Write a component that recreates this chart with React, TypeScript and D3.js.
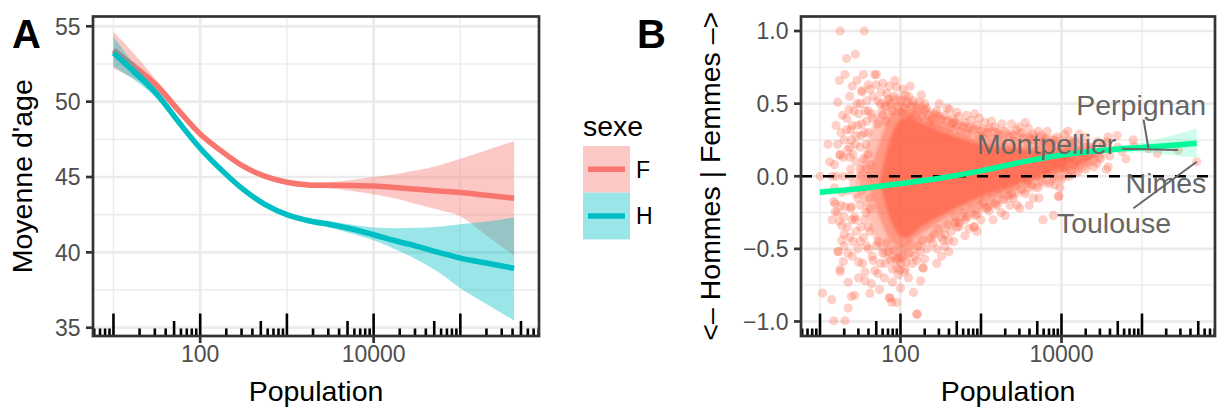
import React from 'react';
import * as d3 from 'd3';

const FONT = '"Liberation Sans", Arial, Helvetica, sans-serif';

// ---------- Panel A data (log10 population, mean age) ----------
const popLogA = [1.0, 1.25, 1.5, 1.75, 2.0, 2.25, 2.5, 2.75, 3.0, 3.25, 3.5, 3.75, 4.0, 4.25, 4.5, 4.75, 5.0, 5.3, 5.62];
const ageF = [53.42, 52.3, 51.05, 49.42, 47.86, 46.7, 45.7, 45.04, 44.65, 44.47, 44.45, 44.44, 44.4, 44.3, 44.18, 44.07, 43.97, 43.79, 43.59];
const ageFLow = [52.2, 51.5, 50.7, 49.17, 47.66, 46.53, 45.55, 44.89, 44.5, 44.3, 44.23, 44.07, 43.85, 43.57, 43.19, 42.82, 42.38, 41.14, 39.78];
const ageFHigh = [54.63, 53.1, 51.4, 49.67, 48.06, 46.87, 45.85, 45.19, 44.8, 44.64, 44.67, 44.8, 45.0, 45.18, 45.44, 45.77, 46.21, 46.78, 47.38];
const ageH = [53.24, 51.9, 50.5, 48.66, 46.91, 45.44, 44.16, 43.17, 42.5, 42.1, 41.85, 41.55, 41.17, 40.77, 40.4, 40.0, 39.62, 39.29, 38.94];
const ageHLow = [52.33, 51.4, 50.2, 48.44, 46.73, 45.29, 44.01, 43.02, 42.35, 41.93, 41.63, 41.24, 40.8, 40.2, 39.51, 38.68, 37.62, 36.58, 35.48];
const ageHHigh = [54.32, 52.4, 50.8, 48.88, 47.09, 45.59, 44.31, 43.32, 42.65, 42.27, 42.07, 41.83, 41.65, 41.6, 41.63, 41.7, 41.87, 42.05, 42.31];
const sexes = ['F', 'H'];
const sexColors = ['#F8766D', '#00BFC4'];

const yBreaksA = [35, 40, 45, 50, 55];
const yMinorA = [37.5, 42.5, 47.5, 52.5];
const xBreaks = [100, 10000];
const xBreakLabels = ['100', '10000'];
const xMinor = [10, 1000, 100000];

// ---------- Panel B data ----------
const yBreaksB = [-1, -0.5, 0, 0.5, 1];
const yBreakLabelsB = ['\u22121.0', '\u22120.5', '0.0', '0.5', '1.0'];
const yMinorB = [-0.75, -0.25, 0.25, 0.75];

// scattered communes: [log10 population, difference]
const communes: number[][] = [
  [1.25, 1.0], [1.55, 1.0], [1.33, 0.81], [1.44, 0.84], [1.24, 0.66], [1.31, 0.7], [1.7, 0.7], [1.22, 0.51], [1.52, 0.59], [1.6, 0.63],
  [1.1, 0.22], [1.29, 0.13], [1.37, 0.2], [1.0, 0.0], [1.15, 0.0], [1.29, 0.0], [1.25, 0.145], [1.2, 0.0], [1.38, 0.0], [1.5, 0.0], [1.6, 0.0],
  [1.68, 0.7], [1.7, 0.63], [1.52, 0.58], [1.83, 0.57], [1.95, 0.615], [2.06, 0.56], [1.37, 0.55], [1.46, 0.5], [1.58, 0.52],
  [2.24, 0.51], [2.3, 0.455], [2.61, 0.46], [2.39, 0.4], [2.64, 0.36], [2.88, 0.385], [2.92, 0.43], [3.26, 0.36], [3.48, 0.34],
  [3.59, 0.33], [3.75, 0.28], [4.04, 0.29], [4.17, 0.24], [4.4, 0.065], [4.25, 0.12], [3.96, -0.14], [3.9, -0.27], [3.77, -0.3],
  [3.36, -0.2], [3.57, -0.05], [3.34, -0.13], [3.09, -0.21], [2.92, -0.35], [2.68, -0.32], [2.51, -0.42], [2.55, -0.485],
  [2.28, -0.63], [2.51, -0.55], [2.2, -0.58], [2.01, -0.55], [1.95, -0.63], [1.81, -0.6], [1.66, -0.58], [1.56, -0.66],
  [1.48, -0.59], [1.35, -0.53], [1.23, -0.52], [1.37, -0.42], [1.27, -0.34], [1.43, -0.28], [1.31, -0.21], [1.19, -0.19],
  [1.87, -0.84], [1.95, -0.87], [2.2, -0.95], [1.43, -0.82], [1.35, -0.73], [1.64, -0.74], [1.25, -0.64], [1.72, -0.67],
  [1.58, -0.48], [1.27, -0.11], [1.37, 0.13], [1.25, 0.15], [1.39, 0.25], [1.33, 0.32], [1.52, 0.36], [1.48, 0.43],
  [1.64, 0.43], [1.72, 0.52], [1.81, 0.48], [2.14, 0.48], [2.18, 0.42], [2.43, 0.43], [2.72, 0.41], [3.05, 0.37],
  [3.44, 0.32], [3.17, 0.34], [3.71, 0.31],
  [1.17, -0.995], [1.31, -0.995], [1.03, -0.805], [1.145, -0.85], [1.35, -0.908], [1.39, -0.828], [1.22, -0.518],
  [1.29, -0.587], [1.25, -0.657], [1.86, -0.835], [1.89, -0.867], [2.21, -0.95], [1.62, -0.805], [1.99, -0.645],
  [2.28, -0.633], [2.73, -0.347], [2.91, -0.347], [3.97, -0.136], [4.56, 0.047], [4.58, 0.27], [1.19, -0.245],
  [1.17, -0.175], [1.24, -0.31], [1.39, -0.21],
  [4.1, 0.22], [4.2, 0.18], [4.3, 0.2], [4.35, 0.15], [4.5, 0.19], [4.6, 0.14], [4.7, 0.2], [4.69, 0.28], [4.56, 0.237],
  [4.89, 0.25], [4.44, 0.09], [4.58, 0.065], [3.98, -0.08], [4.15, 0.08], [4.05, 0.05], [3.85, 0.22], [3.95, 0.17],
  [3.8, 0.02], [3.9, 0.1], [4.45, 0.24], [4.0, 0.13], [4.75, 0.17], [4.9, 0.21], [4.3, 0.27], [4.8, 0.12],
  [1.6, 0.45], [1.65, 0.4], [1.75, 0.5], [1.85, 0.53], [1.9, 0.45], [2.0, 0.52], [2.05, 0.47], [2.1, 0.55], [2.2, 0.47],
  [2.3, 0.5], [2.35, 0.42], [2.45, 0.45], [2.5, 0.39], [2.55, 0.42], [2.65, 0.4], [2.7, 0.35], [2.8, 0.37], [2.85, 0.33],
  [2.95, 0.35], [3.0, 0.31], [3.1, 0.33], [3.2, 0.3], [3.3, 0.31], [3.4, 0.28], [3.5, 0.3], [3.6, 0.27], [3.65, 0.29],
  [3.8, 0.26], [3.9, 0.25], [3.95, 0.27], [4.1, 0.25],
  [1.6, -0.5], [1.65, -0.55], [1.7, -0.48], [1.75, -0.6], [1.85, -0.52], [1.9, -0.64], [1.95, -0.57], [2.0, -0.6],
  [2.05, -0.66], [2.1, -0.53], [2.15, -0.6], [2.25, -0.52], [2.3, -0.57], [2.4, -0.46], [2.45, -0.5], [2.55, -0.4],
  [2.6, -0.44], [2.7, -0.35], [2.8, -0.3], [2.85, -0.36], [2.95, -0.26], [3.0, -0.3], [3.1, -0.24], [3.2, -0.2],
  [3.25, -0.25], [3.4, -0.15], [3.45, -0.2], [3.55, -0.12], [3.65, -0.15], [3.7, -0.08], [3.85, -0.05], [4.0, -0.02],
  [4.1, 0.0], [4.2, 0.03], [4.3, 0.05],
  [1.4, 0.35], [1.45, 0.28], [1.5, 0.2], [1.55, 0.3], [1.45, 0.1], [1.5, 0.05], [1.55, -0.05], [1.45, -0.12], [1.5, -0.2],
  [1.55, -0.3], [1.45, -0.38], [1.5, -0.45], [1.4, -0.3], [1.35, -0.1], [1.38, 0.05], [1.6, 0.15], [1.62, -0.15],
  [1.58, 0.38], [1.62, -0.38], [1.42, 0.45], [1.3, -0.4], [1.33, 0.4],
  [1.72, 0.36], [1.78, 0.42], [1.82, 0.38], [1.88, 0.5], [1.92, 0.55], [1.97, 0.48], [2.02, 0.44], [2.08, 0.5], [2.12, 0.43],
  [2.16, 0.52], [2.22, 0.45], [2.27, 0.41], [2.32, 0.47], [2.37, 0.38], [1.76, 0.58], [1.86, 0.62], [2.03, 0.6], [2.26, 0.56],
  [2.12, 0.62], [1.93, 0.66],
  [2.42, 0.36], [2.47, 0.41], [2.52, 0.35], [2.58, 0.38], [2.62, 0.33], [2.67, 0.37], [2.74, 0.31], [2.78, 0.34], [2.83, 0.29],
  [2.9, 0.32], [2.97, 0.28], [2.48, 0.5], [2.58, 0.47], [2.7, 0.44], [2.82, 0.42], [2.98, 0.4],
  [3.03, 0.27], [3.08, 0.3], [3.14, 0.26], [3.22, 0.28], [3.28, 0.25], [3.35, 0.27], [3.42, 0.24], [3.52, 0.26], [3.58, 0.23],
  [3.63, 0.25], [3.72, 0.22], [3.78, 0.24], [3.83, 0.2], [3.88, 0.23], [3.93, 0.21], [4.02, 0.2], [4.07, 0.17], [4.12, 0.19],
  [4.18, 0.15], [4.23, 0.17], [4.28, 0.13], [4.33, 0.1], [4.38, 0.18], [3.13, 0.38], [3.38, 0.36], [3.55, 0.37], [3.82, 0.31],
  [4.08, 0.31], [4.22, 0.29],
  [1.72, -0.45], [1.78, -0.53], [1.83, -0.46], [1.88, -0.58], [1.92, -0.51], [1.98, -0.56], [2.03, -0.5], [2.07, -0.59],
  [2.12, -0.47], [2.18, -0.55], [2.22, -0.48], [2.27, -0.44], [2.33, -0.5], [2.37, -0.43], [1.8, -0.7], [1.9, -0.73],
  [2.0, -0.77], [2.1, -0.7], [2.16, -0.8], [2.25, -0.72], [1.97, -0.68], [2.06, -0.64],
  [2.42, -0.4], [2.47, -0.36], [2.53, -0.44], [2.58, -0.33], [2.63, -0.38], [2.68, -0.28], [2.73, -0.32], [2.78, -0.25],
  [2.83, -0.28], [2.88, -0.22], [2.93, -0.27], [2.98, -0.2], [2.45, -0.6], [2.6, -0.52], [2.66, -0.45], [2.8, -0.41], [2.95, -0.38],
  [3.03, -0.18], [3.07, -0.22], [3.13, -0.15], [3.18, -0.19], [3.23, -0.12], [3.28, -0.16], [3.33, -0.09], [3.38, -0.12],
  [3.43, -0.07], [3.5, -0.09], [3.58, -0.03], [3.63, -0.06], [3.68, 0.0], [3.75, -0.03], [3.82, 0.03], [3.9, 0.0], [3.95, 0.05],
  [4.03, 0.06], [4.12, 0.04], [4.22, 0.08], [3.15, -0.3], [3.3, -0.27], [3.48, -0.22], [3.6, -0.2], [3.72, -0.15], [3.92, -0.06],
  [1.18, 0.08], [1.22, 0.22], [1.26, 0.3], [1.3, 0.25], [1.34, 0.18], [1.38, 0.32], [1.41, 0.15], [1.44, 0.22], [1.47, 0.35],
  [1.51, 0.28], [1.54, 0.12], [1.57, 0.22], [1.6, 0.3], [1.63, 0.08], [1.18, -0.08], [1.22, -0.25], [1.26, -0.2], [1.3, -0.28],
  [1.34, -0.35], [1.38, -0.22], [1.41, -0.45], [1.44, -0.3], [1.47, -0.15], [1.51, -0.35], [1.54, -0.42], [1.57, -0.25],
  [1.6, -0.35], [1.63, -0.22], [1.42, -0.05], [1.52, -0.1], [1.58, 0.05], [1.28, 0.42], [1.36, 0.46], [1.5, 0.5], [1.56, 0.45],
  [1.3, -0.48], [1.4, -0.55], [1.47, -0.5], [1.53, -0.6], [1.27, -0.44], [1.2, 0.35], [1.15, -0.3], [1.12, 0.1], [1.66, 0.55],
  [1.68, -0.65], [1.62, 0.6], [1.74, -0.78], [1.56, -0.72], [1.48, -0.7], [1.4, 0.62], [1.46, 0.66], [1.54, 0.7], [1.78, 0.64],
  [4.05, 0.12], [4.12, 0.14], [4.18, 0.1], [4.26, 0.16], [4.32, 0.14], [4.36, 0.2], [4.42, 0.16], [4.48, 0.12], [4.52, 0.22],
];

// dense core of the cloud: envelopes of overlapping communes
const coreLog1 = [1.45, 1.6, 1.8, 2.0, 2.25, 2.5, 2.75, 3.0, 3.25, 3.5, 3.75, 4.0, 4.25, 4.55];
const coreLo1 = [-0.03, -0.3, -0.56, -0.6, -0.5, -0.4, -0.32, -0.25, -0.19, -0.13, -0.08, -0.03, 0.03, 0.13];
const coreHi1 = [0.0, 0.25, 0.53, 0.56, 0.5, 0.43, 0.38, 0.35, 0.33, 0.31, 0.29, 0.27, 0.25, 0.16];
const coreLog2 = [1.6, 1.75, 1.9, 2.0, 2.25, 2.5, 2.75, 3.0, 3.25, 3.5, 3.75, 4.0, 4.25, 4.45];
const coreLo2 = [-0.05, -0.3, -0.46, -0.49, -0.4, -0.31, -0.23, -0.17, -0.11, -0.06, -0.01, 0.03, 0.07, 0.13];
const coreHi2 = [-0.02, 0.25, 0.44, 0.46, 0.41, 0.35, 0.29, 0.25, 0.23, 0.21, 0.2, 0.19, 0.18, 0.15];
const coreLog3 = [1.75, 1.9, 2.0, 2.1, 2.25, 2.5, 2.75, 3.0, 3.25, 3.5, 3.75, 4.0, 4.15];
const coreLo3 = [-0.05, -0.33, -0.41, -0.42, -0.35, -0.27, -0.2, -0.14, -0.09, -0.04, 0.01, 0.06, 0.1];
const coreHi3 = [-0.02, 0.3, 0.39, 0.41, 0.37, 0.31, 0.26, 0.22, 0.2, 0.19, 0.17, 0.16, 0.13];

// loess fit
const fitLog = [1.0, 1.5, 2.0, 2.5, 3.0, 3.5, 4.0, 4.5, 5.0, 5.3, 5.68];
const fitVal = [-0.11, -0.085, -0.05, -0.012, 0.037, 0.097, 0.146, 0.178, 0.198, 0.21, 0.228];
const fitLow = [-0.135, -0.097, -0.056, -0.018, 0.031, 0.09, 0.136, 0.158, 0.163, 0.15, 0.128];
const fitHigh = [-0.085, -0.073, -0.044, -0.006, 0.043, 0.104, 0.156, 0.198, 0.233, 0.27, 0.328];

// labelled cities
const cityNames = ['Perpignan', 'Montpellier', 'Nimes', 'Toulouse'];
const cityLogPop = [5.08, 5.45, 5.19, 5.68];
const cityDiff = [0.19, 0.18, 0.157, 0.1];
// label placement (data coordinates of label anchor and segment start)
const labelLog = [4.99, 3.816, 5.298, 4.652];
const labelVal = [0.42, 0.15, -0.118, -0.392];
const segLog = [5.02, 4.75, NaN, 4.894];
const segVal = [0.39, 0.19, NaN, -0.22];

const DOMAIN_LOG = [0.764, 5.907];

function logTicks(domain: number[]) {
  const out: { v: number; k: number }[] = [];
  for (let e = 0; e <= 6; e++) {
    for (let k = 1; k <= 9; k++) {
      const v = k * Math.pow(10, e);
      const lv = Math.log10(v);
      if (lv >= domain[0] && lv <= domain[1]) out.push({ v, k });
    }
  }
  return out;
}

type PanelProps = {
  x: d3.ScaleLogarithmic<number, number>;
  y: d3.ScaleLinear<number, number>;
  left: number; right: number; top: number; bottom: number;
  yBreaks: number[]; yLabels: string[]; yMinor: number[];
};

function Grid({ x, y, left, right, top, bottom, yBreaks, yMinor }: PanelProps) {
  return (
    <g>
      <rect x={left} y={top} width={right - left} height={bottom - top} fill="#FFFFFF" />
      {yMinor.map((v) => (
        <line key={'ym' + v} x1={left} x2={right} y1={y(v)} y2={y(v)} stroke="#EBEBEB" strokeWidth={1.4} />
      ))}
      {xMinor.map((v) => (
        <line key={'xm' + v} x1={x(v)} x2={x(v)} y1={top} y2={bottom} stroke="#EBEBEB" strokeWidth={1.4} />
      ))}
      {yBreaks.map((v) => (
        <line key={'yM' + v} x1={left} x2={right} y1={y(v)} y2={y(v)} stroke="#EBEBEB" strokeWidth={2.7} />
      ))}
      {xBreaks.map((v) => (
        <line key={'xM' + v} x1={x(v)} x2={x(v)} y1={top} y2={bottom} stroke="#EBEBEB" strokeWidth={2.7} />
      ))}
    </g>
  );
}

function Frame({ x, y, left, right, top, bottom, yBreaks, yLabels }: PanelProps) {
  const lt = logTicks(DOMAIN_LOG);
  return (
    <g>
      {lt.map((t, i) => {
        const len = t.k === 1 ? 22.5 : t.k === 5 ? 15 : 7.5;
        return <line key={'lt' + i} x1={x(t.v)} x2={x(t.v)} y1={bottom} y2={bottom - len} stroke="#000" strokeWidth={2.6} />;
      })}
      <rect x={left} y={top} width={right - left} height={bottom - top} fill="none" stroke="#333333" strokeWidth={2.7} />
      {yBreaks.map((v, i) => (
        <g key={'yt' + v}>
          <line x1={left - 7} x2={left} y1={y(v)} y2={y(v)} stroke="#333333" strokeWidth={2.7} />
          <text x={left - 12.5} y={y(v)} dy="0.36em" textAnchor="end" fontSize={23} fill="#4D4D4D" fontFamily={FONT}>{yLabels[i]}</text>
        </g>
      ))}
      {xBreaks.map((v, i) => (
        <g key={'xt' + v}>
          <line x1={x(v)} x2={x(v)} y1={bottom} y2={bottom + 7} stroke="#333333" strokeWidth={2.7} />
          <text x={x(v)} y={bottom + 26} textAnchor="middle" fontSize={23} fill="#4D4D4D" fontFamily={FONT}>{xBreakLabels[i]}</text>
        </g>
      ))}
      <text x={(left + right) / 2} y={401} textAnchor="middle" fontSize={28.5} fill="#000" fontFamily={FONT}>Population</text>
    </g>
  );
}

export default function App() {
  const top = 16.5, bottom = 336;
  const aL = 93, aR = 539, bL = 801, bR = 1215;
  const dom = [Math.pow(10, DOMAIN_LOG[0]), Math.pow(10, DOMAIN_LOG[1])];
  const xA = d3.scaleLog().domain(dom).range([aL, aR]);
  const yA = d3.scaleLinear().domain([34.45, 55.65]).range([bottom, top]);
  const xB = d3.scaleLog().domain(dom).range([bL, bR]);
  const yB = d3.scaleLinear().domain([-1.1, 1.1]).range([bottom, top]);

  const seriesA = [
    { mid: ageF, lo: ageFLow, hi: ageFHigh },
    { mid: ageH, lo: ageHLow, hi: ageHHigh },
  ];
  const curveA = d3.curveCatmullRom.alpha(0.5);
  const areaA = (lo: number[], hi: number[]) =>
    d3.area<number>().x((d) => xA(Math.pow(10, popLogA[d]))).y0((d) => yA(lo[d])).y1((d) => yA(hi[d])).curve(curveA)(popLogA.map((_, i) => i)) || '';
  const lineA = (mid: number[]) =>
    d3.line<number>().x((d) => xA(Math.pow(10, popLogA[d]))).y((d) => yA(mid[d])).curve(curveA)(popLogA.map((_, i) => i)) || '';

  const bandB = (lg: number[], lo: number[], hi: number[]) =>
    d3.area<number>().x((d) => xB(Math.pow(10, lg[d]))).y0((d) => yB(lo[d])).y1((d) => yB(hi[d])).curve(d3.curveCatmullRom)(lg.map((_, i) => i)) || '';
  const fitArea = bandB(fitLog, fitLow, fitHigh);
  const fitLine = d3.line<number>().x((d) => xB(Math.pow(10, fitLog[d]))).y((d) => yB(fitVal[d])).curve(d3.curveCatmullRom)(fitLog.map((_, i) => i)) || '';

  const propsA: PanelProps = { x: xA, y: yA, left: aL, right: aR, top, bottom, yBreaks: yBreaksA, yLabels: yBreaksA.map(String), yMinor: yMinorA };
  const propsB: PanelProps = { x: xB, y: yB, left: bL, right: bR, top, bottom, yBreaks: yBreaksB, yLabels: yBreakLabelsB, yMinor: yMinorB };

  const allPoints = communes.concat(cityLogPop.map((l, i) => [l, cityDiff[i]]));

  return (
    <div style={{ position: 'absolute', left: 0, top: 0 }}>
      <svg width={1221} height={409} viewBox="0 0 1221 409" style={{ display: 'block', background: '#FFFFFF' }}>
        <defs>
          <clipPath id="clipA"><rect x={aL} y={top} width={aR - aL} height={bottom - top} /></clipPath>
          <clipPath id="clipB"><rect x={bL} y={top} width={bR - bL} height={bottom - top} /></clipPath>
          <filter id="soft" x="-10%" y="-10%" width="120%" height="120%"><feGaussianBlur stdDeviation="1.5" /></filter>
        </defs>
        <rect x={0} y={0} width={1221} height={409} fill="#FFFFFF" />

        {/* Panel A */}
        <Grid {...propsA} />
        <g clipPath="url(#clipA)">
          {seriesA.map((s, i) => (
            <g key={sexes[i]}>
              <path d={areaA(s.lo, s.hi)} fill={sexColors[i]} fillOpacity={0.4} />
              <path d={lineA(s.mid)} fill="none" stroke={sexColors[i]} strokeWidth={5.5} />
            </g>
          ))}
        </g>
        <Frame {...propsA} />
        <text x={32} y={176.25} transform="rotate(-90 32 176.25)" textAnchor="middle" fontSize={28.5} fill="#000" fontFamily={FONT}>Moyenne d'age</text>
        <text x={12} y={48} fontSize={40} fontWeight="bold" fill="#000" fontFamily={FONT}>A</text>

        {/* Legend */}
        <text x={583} y={136} fontSize={28.5} fill="#000" fontFamily={FONT}>sexe</text>
        {sexes.map((s, i) => {
          const ky = 146 + i * 46.7;
          return (
            <g key={'lg' + s}>
              <rect x={583} y={ky} width={47} height={46.7} fill="#FFFFFF" />
              <rect x={583} y={ky} width={47} height={46.7} fill={sexColors[i]} fillOpacity={0.4} />
              <line x1={588} x2={625} y1={ky + 23.3} y2={ky + 23.3} stroke={sexColors[i]} strokeWidth={5.5} />
              <text x={636} y={ky + 23.3} dy="0.36em" fontSize={23} fill="#000" fontFamily={FONT}>{s}</text>
            </g>
          );
        })}

        {/* Panel B */}
        <Grid {...propsB} />
        <g clipPath="url(#clipB)">
          <g filter="url(#soft)">
            <path d={bandB(coreLog1, coreLo1, coreHi1)} fill="#FF6347" fillOpacity={0.4} />
            <path d={bandB(coreLog2, coreLo2, coreHi2)} fill="#FF6347" fillOpacity={0.45} />
            <path d={bandB(coreLog3, coreLo3, coreHi3)} fill="#FF6347" fillOpacity={0.7} />
          </g>
          {allPoints.map((p, i) => (
            <circle key={'p' + i} cx={xB(Math.pow(10, p[0]))} cy={yB(p[1])} r={4.6} fill="#FF6347" fillOpacity={0.3} />
          ))}
          <line x1={bL} x2={bR} y1={yB(0)} y2={yB(0)} stroke="#000" strokeWidth={2.6} strokeDasharray="11 11" />
          <path d={fitArea} fill="#00FA9A" fillOpacity={0.2} />
          <path d={fitLine} fill="none" stroke="#00FA9A" strokeWidth={5.5} />
          {cityNames.map((n, i) => (
            <g key={'c' + n}>
              {!isNaN(segLog[i]) && (
                <line x1={xB(Math.pow(10, segLog[i]))} y1={yB(segVal[i])} x2={xB(Math.pow(10, cityLogPop[i]))} y2={yB(cityDiff[i])} stroke="#666666" strokeWidth={2} />
              )}
              <text x={xB(Math.pow(10, labelLog[i]))} y={yB(labelVal[i])} textAnchor="middle" fontSize={28.5} fill="#666666" fontFamily={FONT}>{n}</text>
            </g>
          ))}
        </g>
        <Frame {...propsB} />
        <text x={720} y={176.25} transform="rotate(-90 720 176.25)" textAnchor="middle" fontSize={28.5} fill="#000" fontFamily={FONT}>{'<\u2013 Hommes | Femmes \u2013>'}</text>
        <text x={637} y={48} fontSize={40} fontWeight="bold" fill="#000" fontFamily={FONT}>B</text>
      </svg>
    </div>
  );
}
